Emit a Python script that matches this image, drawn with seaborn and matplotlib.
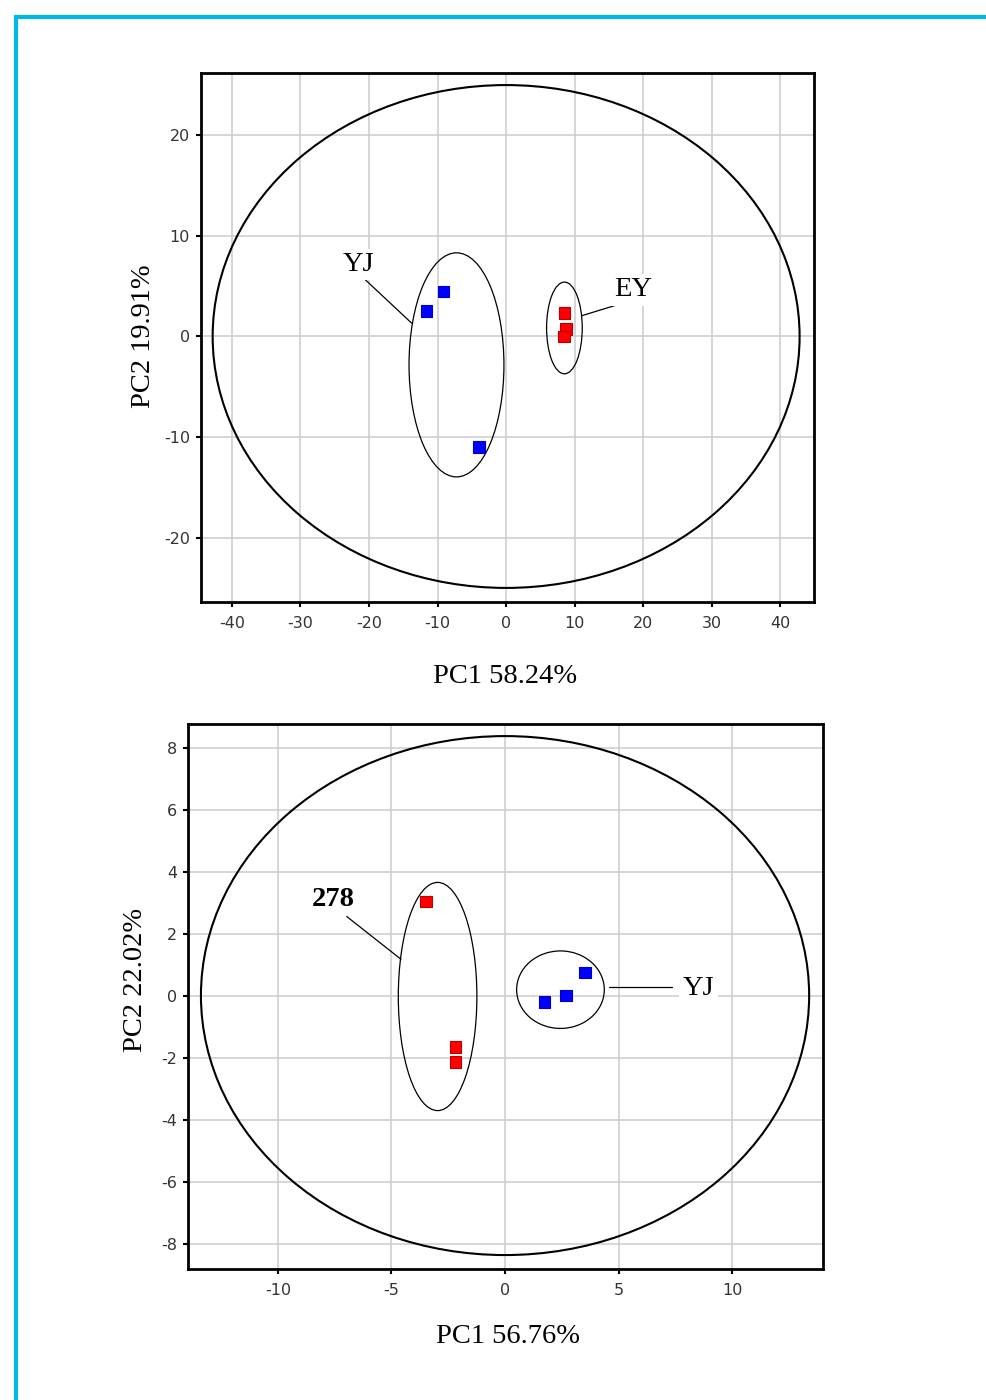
import numpy as np
import pandas as pd
import matplotlib
matplotlib.use("Agg")
import matplotlib.pyplot as plt
from matplotlib.patches import Ellipse
from matplotlib.lines import Line2D
import seaborn as sns

# ---- PCA scores, panel A (PC1 58.24 %, PC2 19.91 %) ----
a_groups = ["YJ", "YJ", "YJ", "EY", "EY", "EY"]
a_pc1 = [-11.65, -9.17, -3.97, 8.53, 8.72, 8.47]
a_pc2 = [2.53, 4.45, -11.0, 2.33, 0.74, 0.0]

# ---- PCA scores, panel B (PC1 56.76 %, PC2 22.02 %) ----
b_groups = ["278", "278", "278", "YJ", "YJ", "YJ"]
b_pc1 = [-3.48, -2.17, -2.17, 1.73, 2.69, 3.52]
b_pc2 = [3.03, -1.66, -2.15, -0.21, 0.01, 0.75]

# Hotelling T2 ellipse (center x, center y, half width, half height)
a_t2 = (0.0, 0.0, 42.8, 25.0)
b_t2 = (0.0, 0.0, 13.39, 8.37)
# Group ellipses
a_group_ell = {"YJ": (-7.24, -2.82, 6.92, 11.14), "EY": (8.5, 0.85, 2.6, 4.56)}
b_group_ell = {"278": (-2.97, -0.03, 1.73, 3.68), "YJ": (2.44, 0.19, 1.93, 1.25)}

a_xlabel, a_ylabel = "PC1 58.24%", "PC2 19.91%"
b_xlabel, b_ylabel = "PC1 56.76%", "PC2 22.02%"

a_xticks = [-40, -30, -20, -10, 0, 10, 20, 30, 40]
a_yticks = [-20, -10, 0, 10, 20]
b_xticks = [-10, -5, 0, 5, 10]
b_yticks = [-8, -6, -4, -2, 0, 2, 4, 6, 8]

palette_a = {"YJ": "#0000ff", "EY": "#ff0000"}
palette_b = {"278": "#ff0000", "YJ": "#0000ff"}

sns.set_theme(style="whitegrid")
plt.rcParams["font.family"] = ["DejaVu Sans"]

W, H = 987, 1400
fig = plt.figure(figsize=(W / 100, H / 100), dpi=100)
fig.patch.set_facecolor("white")


def px_axes(l, t, r, b):
    return fig.add_axes([l / W, 1 - b / H, (r - l) / W, (b - t) / H])


ax1 = px_axes(201, 73, 814, 602)
ax2 = px_axes(188, 724, 823, 1269)

serif = ["Liberation Serif", "DejaVu Serif"]


def style_axes(ax, xlim, ylim, xticks, yticks, xlabel, ylabel, xl_pos, yl_pos):
    ax.set_xlim(*xlim)
    ax.set_ylim(*ylim)
    ax.set_xticks(xticks)
    ax.set_yticks(yticks)
    ax.set_xticklabels([str(v) for v in xticks])
    ax.set_yticklabels([str(v) for v in yticks])
    ax.grid(True, color="#cccccc", linewidth=1.1)
    ax.set_axisbelow(True)
    for s in ax.spines.values():
        s.set_visible(True)
        s.set_color("black")
        s.set_linewidth(2.0)
    ax.tick_params(axis="both", which="major", direction="out", length=3.5,
                   width=1.5, color="black", labelsize=11.5, labelcolor="#333333",
                   bottom=True, left=True)
    ax.tick_params(axis="x", pad=6.5)
    ax.tick_params(axis="y", pad=4.5)
    ax.set_xlabel(xlabel, fontsize=20.5, family=serif, color="black")
    ax.set_ylabel(ylabel, fontsize=20.5, family=serif, color="black")
    ax.xaxis.label.set_va("baseline")
    ax.yaxis.label.set_va("baseline")
    ax.xaxis.set_label_coords(*xl_pos)
    ax.yaxis.set_label_coords(*yl_pos)


def draw_ellipse(ax, e, lw):
    cx, cy, hw, hh = e
    ax.add_patch(Ellipse((cx, cy), 2 * hw, 2 * hh, fill=False,
                         edgecolor="black", linewidth=lw, zorder=3))


def label(ax, txt, xy, seg, bold=False):
    ax.plot([seg[0][0], seg[1][0]], [seg[0][1], seg[1][1]],
            color="black", linewidth=0.9, zorder=3)
    ax.text(xy[0], xy[1], txt, ha="center", va="center", fontsize=20.5,
            family=serif, fontweight="bold" if bold else "normal",
            color="black", zorder=4,
            bbox=dict(facecolor="white", edgecolor="none", pad=2.5))


def darken_edges(ax):
    for coll in ax.collections:
        fc = coll.get_facecolors()
        if len(fc):
            coll.set_edgecolors([(c[0] * 0.75, c[1] * 0.75, c[2] * 0.75, 1) for c in fc])


# ---- Panel A ----
dfa = pd.DataFrame({"PC1": a_pc1, "PC2": a_pc2, "group": a_groups})
draw_ellipse(ax1, a_t2, 1.5)
for g, e in a_group_ell.items():
    draw_ellipse(ax1, e, 0.9)
sns.scatterplot(data=dfa, x="PC1", y="PC2", hue="group", palette=palette_a,
                marker="s", s=68, linewidth=0.8, legend=False, ax=ax1, zorder=5)
darken_edges(ax1)
style_axes(ax1, (-44.5, 44.9), (-26.4, 26.2), a_xticks, a_yticks,
           a_xlabel, a_ylabel, (0.496, -0.153), (-0.0832, 0.502))
label(ax1, "YJ", (-21.56, 7.16), ((-20.69, 5.74), (-13.78, 1.33)))
label(ax1, "EY", (18.48, 4.65), ((16.2, 3.15), (11.0, 2.06)))

# ---- Panel B ----
dfb = pd.DataFrame({"PC1": b_pc1, "PC2": b_pc2, "group": b_groups})
draw_ellipse(ax2, b_t2, 1.5)
for g, e in b_group_ell.items():
    draw_ellipse(ax2, e, 0.9)
sns.scatterplot(data=dfb, x="PC1", y="PC2", hue="group", palette=palette_b,
                marker="s", s=68, linewidth=0.8, legend=False, ax=ax2, zorder=5)
darken_edges(ax2)
style_axes(ax2, (-13.96, 14.0), (-8.82, 8.76), b_xticks, b_yticks,
           b_xlabel, b_ylabel, (0.504, -0.135), (-0.0729, 0.530))
label(ax2, "278", (-7.56, 3.10), ((-6.97, 2.55), (-4.58, 1.17)), bold=True)
label(ax2, "YJ", (8.52, 0.24), ((4.59, 0.27), (7.34, 0.27)))

# ---- cyan frame along the top and left edges ----
cyan = "#00b8e6"
fig.add_artist(Line2D([16 / W, 16 / W], [1 - 15 / H, 0], transform=fig.transFigure,
                      color=cyan, linewidth=3.0, solid_capstyle="butt"))
fig.add_artist(Line2D([14 / W, 1], [1 - 17 / H, 1 - 17 / H], transform=fig.transFigure,
                      color=cyan, linewidth=3.0, solid_capstyle="butt"))

fig.savefig("out.png", dpi=100, facecolor="white")
